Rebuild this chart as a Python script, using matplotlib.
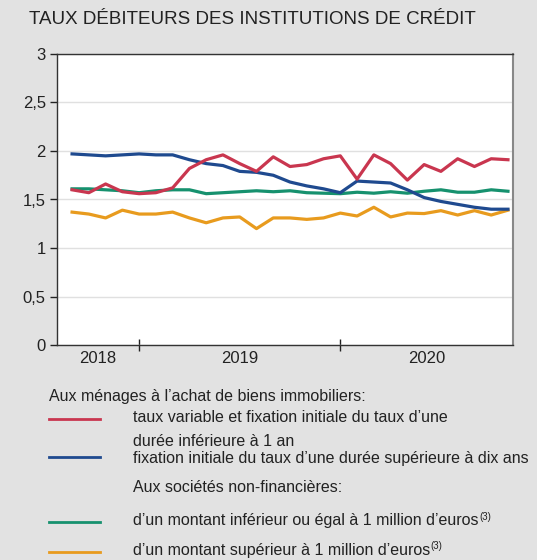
import numpy as np
import matplotlib
matplotlib.use('Agg')
import matplotlib.pyplot as plt
from matplotlib.lines import Line2D
from matplotlib.ticker import FuncFormatter

plt.rcParams['font.family'] = ['Liberation Sans', 'DejaVu Sans']

# Data (monthly, Sep 2018 - Nov 2020)
months = np.arange(27)
year_labels = ['2018', '2019', '2020']
year_starts = [4, 16]  # index of January 2019 and January 2020

red = [1.60, 1.57, 1.66, 1.58, 1.56, 1.57, 1.62, 1.82, 1.91, 1.96,
       1.87, 1.79, 1.94, 1.84, 1.86, 1.92, 1.95, 1.71,
       1.96, 1.87, 1.70, 1.86, 1.79, 1.92, 1.84, 1.92, 1.91]
blue = [1.97, 1.96, 1.95, 1.96, 1.97, 1.96, 1.96, 1.91, 1.87, 1.85,
        1.79, 1.78, 1.75, 1.68, 1.64, 1.61, 1.57, 1.69,
        1.68, 1.67, 1.60, 1.52, 1.48, 1.45, 1.42, 1.40, 1.40]
green = [1.61, 1.61, 1.60, 1.59, 1.57, 1.59, 1.60, 1.60, 1.56, 1.57,
         1.58, 1.59, 1.58, 1.59, 1.57, 1.565, 1.56, 1.575,
         1.565, 1.58, 1.565, 1.585, 1.60, 1.575, 1.575, 1.60, 1.585]
orange = [1.37, 1.35, 1.31, 1.39, 1.35, 1.35, 1.37, 1.31, 1.26, 1.31,
          1.32, 1.20, 1.31, 1.31, 1.295, 1.31, 1.36, 1.33,
          1.42, 1.32, 1.36, 1.355, 1.385, 1.34, 1.385, 1.34, 1.39]

col_red = '#C9364F'
col_blue = '#1F4A8F'
col_green = '#16916E'
col_orange = '#E89B1E'
bg = '#E2E2E2'
txt = '#222222'

fig = plt.figure(figsize=(5.37, 5.60), dpi=100)
fig.patch.set_facecolor(bg)
ax = fig.add_axes([0.1061, 0.3839, 0.8492, 0.5197])
ax.set_facecolor('white')

for vals, c in [(orange, col_orange), (green, col_green), (blue, col_blue), (red, col_red)]:
    ax.plot(months, vals, color=c, linewidth=2.3)

ax.set_xlim(-0.9, 26.3)
ax.set_ylim(0, 3)
ax.set_yticks(np.arange(0, 3.01, 0.5))
ax.yaxis.set_major_formatter(FuncFormatter(lambda v, p: ('%g' % v).replace('.', ',')))
ax.tick_params(axis='y', direction='out', length=5, width=1, labelsize=12, colors=txt, pad=3)
ax.grid(axis='y', color='#E0E0E0', linewidth=1)
ax.set_axisbelow(True)

ax.set_xticks(year_starts)
ax.set_xticklabels([])
ax.tick_params(axis='x', direction='inout', length=9, width=1, colors=txt)
bounds = [-0.9] + year_starts + [26.3]
for k, lab in enumerate(year_labels):
    ax.text((bounds[k] + bounds[k + 1]) / 2, -0.06, lab, ha='center', va='top',
            fontsize=12, color=txt)

for s in ['left', 'bottom', 'top']:
    ax.spines[s].set_color('#333333')
    ax.spines[s].set_linewidth(1)
ax.spines['right'].set_color('#888888')
ax.spines['right'].set_linewidth(1.5)

fig.text(29 / 537, 1 - 19 / 560, 'TAUX DÉBITEURS DES INSTITUTIONS DE CRÉDIT',
         fontsize=13.5, color=txt, va='center', ha='left')

# Legend drawn by hand
def px(x, y):
    return x / 537, 1 - y / 560

def legend_line(y, c):
    x0, yy = px(49, y)
    x1, _ = px(100, y)
    fig.add_artist(Line2D([x0, x1], [yy, yy], color=c, linewidth=2, transform=fig.transFigure))

renderer = fig.canvas.get_renderer()

def with_sup(x, y, s):
    t = fig.text(*px(x, y), s, fontsize=fs, va='center', color=txt)
    bb = t.get_window_extent(renderer=renderer)
    fig.text(bb.x1 / fig.bbox.width + 0.001, px(x, y - 4)[1], '(3)', fontsize=7,
             va='center', color=txt)

tx = 133
fs = 11.5
fig.text(*px(49, 397), 'Aux ménages à l\u2019achat de biens immobiliers:', fontsize=fs, va='center', color=txt)
legend_line(419, col_red)
fig.text(*px(tx, 418), 'taux variable et fixation initiale du taux d\u2019une', fontsize=fs, va='center', color=txt)
fig.text(*px(tx, 441), 'durée inférieure à 1 an', fontsize=fs, va='center', color=txt)
legend_line(457, col_blue)
fig.text(*px(tx, 458), 'fixation initiale du taux d\u2019une durée supérieure à dix ans', fontsize=fs, va='center', color=txt)
fig.text(*px(tx, 488), 'Aux sociétés non-financières:', fontsize=fs, va='center', color=txt)
legend_line(522, col_green)
with_sup(tx, 521, 'd\u2019un montant inférieur ou égal à 1 million d\u2019euros')
legend_line(552, col_orange)
with_sup(tx, 550, 'd\u2019un montant supérieur à 1 million d\u2019euros')

fig.savefig('out.png', dpi=100, facecolor=bg)
